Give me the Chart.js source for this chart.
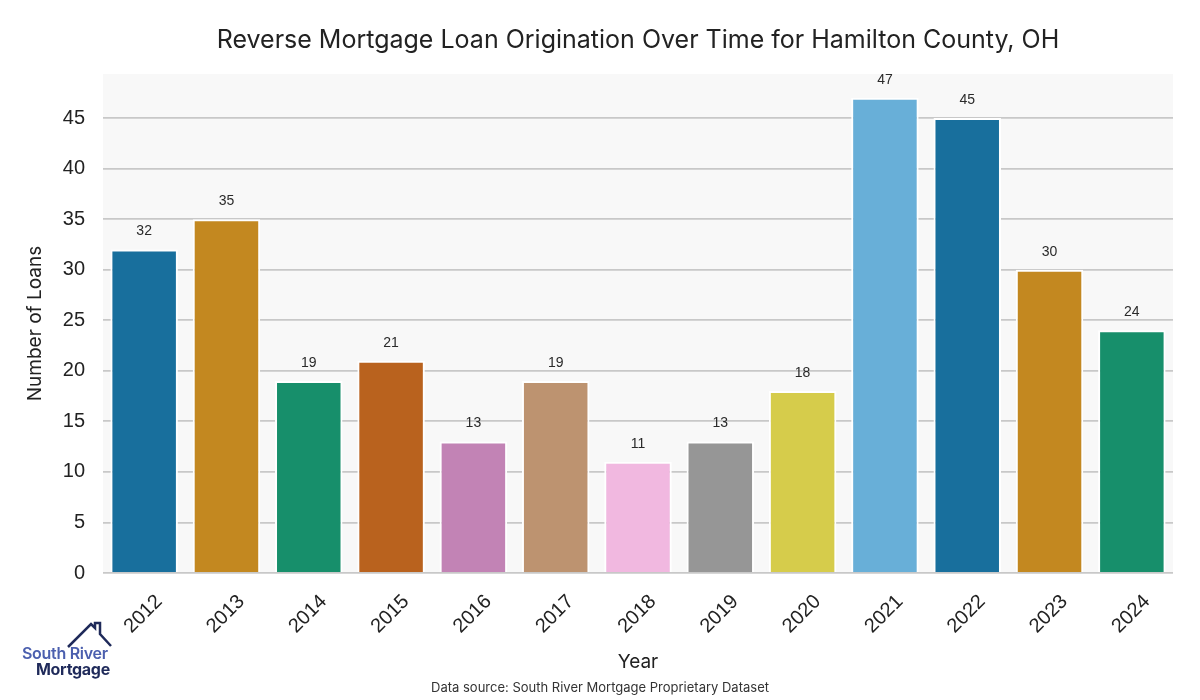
<!DOCTYPE html>
<html lang="en">
<head>
    <meta charset="UTF-8">
    <title>Reverse Mortgage Loan Origination</title>
    <script src="https://cdn.jsdelivr.net/npm/chart.js"></script>
    <style>
        html, body { margin: 0; padding: 0; background: #ffffff; }
        #wrap { position: relative; width: 1200px; height: 700px; }
        #source {
            position: absolute; left: 0; width: 1200px; top: 679px;
            text-align: center; font: 13px Inter, "DejaVu Sans", sans-serif; color: #333;
        }
        #logo { position: absolute; left: 18px; top: 618px; width: 100px; height: 64px; }
        #logo .l1 { position: absolute; left: 4px; top: 25px; font: 600 16px Inter, sans-serif; color: #4b5fae; white-space: nowrap; letter-spacing: -0.3px; }
        #logo .l2 { position: absolute; left: 18px; top: 41px; font: 700 16px Inter, sans-serif; color: #1f2a5a; white-space: nowrap; letter-spacing: -0.3px; }
    </style>
</head>
<body>
<div id="wrap">
    <canvas id="chart" width="1200" height="700"></canvas>
    <div id="logo">
        <svg width="100" height="40" style="position:absolute;left:0;top:0">
            <polyline points="50,29 73,6 77,10 77,5 82,5 82,16 93,28" fill="none" stroke="#1f2a5a" stroke-width="2.5"/>
        </svg>
        <div class="l1">South River</div>
        <div class="l2">Mortgage</div>
    </div>
    <div id="source">Data source: South River Mortgage Proprietary Dataset</div>
</div>

<script>
    // data
    const years = ['2012', '2013', '2014', '2015', '2016', '2017', '2018', '2019', '2020', '2021', '2022', '2023', '2024'];
    const loans = [32, 35, 19, 21, 13, 19, 11, 13, 18, 47, 45, 30, 24];
    const barColors = ['#186f9d', '#c38820', '#178f6b', '#b9621e', '#c283b5', '#bd9370',
                       '#f1b8e0', '#969696', '#d6cc4b', '#68afd8', '#186f9d', '#c38820', '#178f6b'];
    const chartTitle = 'Reverse Mortgage Loan Origination Over Time for Hamilton County, OH';

    // grey panel behind the bars + title centred over the plot
    const plotBg = {
        id: 'plotBg',
        beforeDraw(chart) {
            const { ctx, chartArea: a } = chart;
            ctx.save();
            ctx.fillStyle = '#f8f8f8';
            ctx.fillRect(a.left, a.top, a.right - a.left, a.bottom - a.top);
            ctx.fillStyle = '#222';
            ctx.font = '25px Inter, "DejaVu Sans", sans-serif';
            ctx.textAlign = 'center';
            ctx.textBaseline = 'middle';
            ctx.fillText(chartTitle, (a.left + a.right) / 2, 40);
            ctx.restore();
        }
    };

    const valueLabels = {
        id: 'valueLabels',
        afterDatasetsDraw(chart) {
            const ctx = chart.ctx;
            const meta = chart.getDatasetMeta(0);
            ctx.save();
            ctx.font = '14px "Liberation Sans", Arial, sans-serif';
            ctx.fillStyle = '#2a2a2a';
            ctx.textAlign = 'center';
            ctx.textBaseline = 'middle';
            meta.data.forEach((bar, i) => {
                ctx.fillText(String(loans[i]), bar.x, bar.y - 18);
            });
            ctx.restore();
        }
    };

    new Chart(document.getElementById('chart'), {
        type: 'bar',
        data: {
            labels: years,
            datasets: [{
                data: loans,
                backgroundColor: barColors,
                borderColor: '#ffffff',
                borderWidth: 2,
                borderSkipped: 'start',
                barPercentage: 0.82,
                categoryPercentage: 1.0
            }]
        },
        options: {
            responsive: false,
            animation: false,
            layout: { padding: { left: 0, right: 27, top: 74, bottom: 20 } },
            plugins: {
                legend: { display: false },
                tooltip: { enabled: false },
                title: { display: false }
            },
            scales: {
                x: {
                    grid: { display: false },
                    border: { display: false },
                    ticks: {
                        color: '#222',
                        font: { family: '"Liberation Sans", Arial, sans-serif', size: 20 },
                        maxRotation: 45,
                        minRotation: 45,
                        labelOffset: 15,
                        padding: 9
                    },
                    title: {
                        display: true,
                        text: 'Year',
                        color: '#222',
                        font: { family: 'Inter, "DejaVu Sans", sans-serif', size: 19 },
                        padding: { top: 4, bottom: 6 }
                    },
                    afterFit(scale) { scale.height = 107; }
                },
                y: {
                    min: 0,
                    max: 49.36,
                    grid: { color: '#c8c8c8', lineWidth: 1.8, drawTicks: false },
                    border: { display: false },
                    ticks: {
                        stepSize: 5,
                        includeBounds: false,
                        color: '#222',
                        font: { family: '"Liberation Sans", Arial, sans-serif', size: 20 },
                        padding: 18
                    },
                    title: {
                        display: true,
                        text: 'Number of Loans',
                        color: '#222',
                        font: { family: 'Inter, "DejaVu Sans", sans-serif', size: 19 },
                        padding: { top: 24, bottom: 0 }
                    },
                    afterFit(scale) { scale.width = 103; }
                }
            }
        },
        plugins: [plotBg, valueLabels]
    });
</script>
</body>
</html>
